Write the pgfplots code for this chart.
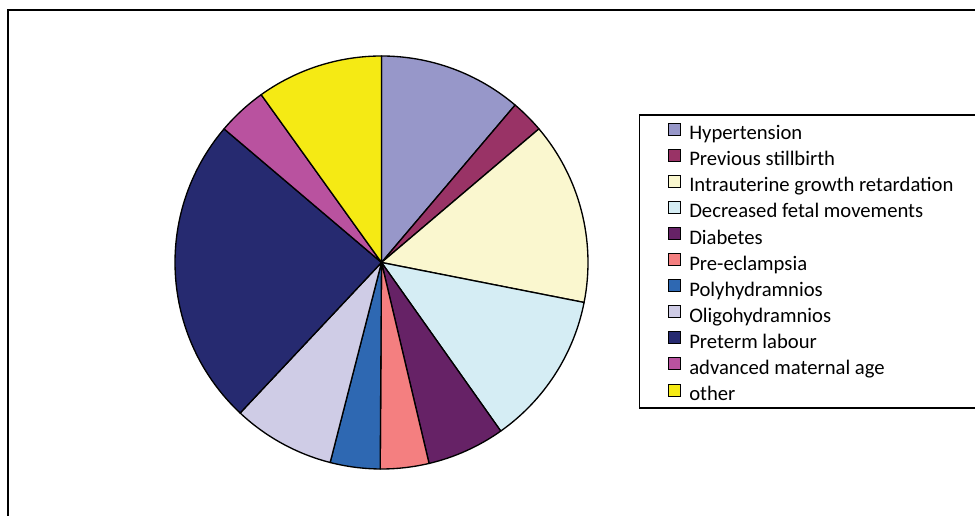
\documentclass[border=0pt]{standalone}
\usepackage{pgfplots}
\pgfplotsset{compat=1.18}
\usepackage{fontspec}
\setmainfont{Carlito}

\definecolor{cHyp}{HTML}{9797C9}
\definecolor{cPrev}{HTML}{993366}
\definecolor{cIugr}{HTML}{FAF7CF}
\definecolor{cDfm}{HTML}{D5EDF4}
\definecolor{cDia}{HTML}{662266}
\definecolor{cPre}{HTML}{F47F80}
\definecolor{cPoly}{HTML}{2E68B2}
\definecolor{cOligo}{HTML}{CFCCE6}
\definecolor{cPtl}{HTML}{262A70}
\definecolor{cAma}{HTML}{B9529F}
\definecolor{cOth}{HTML}{F5EA14}

\begin{document}
\begin{tikzpicture}
\begin{axis}[
    name=ax,
    scale only axis,
    width=731.25pt, height=387pt,
    xmin=0, xmax=975, ymin=0, ymax=516,
    hide axis, clip=false,
    legend image code/.code={\draw[#1,draw=black,line width=0.75pt] (0pt,0pt) rectangle (9pt,9pt);},
    legend style={draw=none, fill=none, at={(axis cs:668,394.3)}, anchor=north west,
        inner sep=0pt, column sep=6pt, row sep=0pt,
        font=\fontsize{15.5pt}{17pt}\selectfont,
        nodes={inner sep=0pt, text height=10.5pt, text depth=3.5pt, minimum height=19.575pt}},
    legend cell align=left,
]
% chart frame and legend box
\draw[line width=1.1pt] (axis cs:8,-5) -- (axis cs:8,506) -- (axis cs:990,506);
\draw[line width=1.1pt] (axis cs:639.3,108) rectangle (axis cs:990,401);

% slices: percentage / colour, clockwise from the top
\def\cum{0}
\foreach \v/\c in {11.2/cHyp, 2.6/cPrev, 14.3/cIugr, 12.1/cDfm, 6.1/cDia, 3.8/cPre,
                   3.9/cPoly, 8.0/cOligo, 24.2/cPtl, 3.9/cAma, 9.9/cOth}{
  \pgfmathsetmacro\a{90-3.6*\cum}
  \pgfmathsetmacro\b{90-3.6*(\cum+\v)}
  \pgfmathsetmacro\xs{381.5+206.5*cos(\a)}
  \pgfmathsetmacro\ys{253.5+206.5*sin(\a)}
  \edef\temp{\noexpand\filldraw[fill=\c,draw=black,line width=1pt,line join=round]
    (axis cs:381.5,253.5) -- (axis cs:\xs,\ys) arc[start angle=\a,end angle=\b,radius=154.875pt] -- cycle;}
  \temp
  \pgfmathsetmacro\n{\cum+\v}\xdef\cum{\n}
}

\addlegendimage{fill=cHyp}\addlegendentry{Hypertension}
\addlegendimage{fill=cPrev}\addlegendentry{Previous stillbirth}
\addlegendimage{fill=cIugr}\addlegendentry{Intrauterine growth retardation}
\addlegendimage{fill=cDfm}\addlegendentry{Decreased fetal movements}
\addlegendimage{fill=cDia}\addlegendentry{Diabetes}
\addlegendimage{fill=cPre}\addlegendentry{Pre-eclampsia}
\addlegendimage{fill=cPoly}\addlegendentry{Polyhydramnios}
\addlegendimage{fill=cOligo}\addlegendentry{Oligohydramnios}
\addlegendimage{fill=cPtl}\addlegendentry{Preterm labour}
\addlegendimage{fill=cAma}\addlegendentry{advanced maternal age}
\addlegendimage{fill=cOth}\addlegendentry{other}
\end{axis}
\pgfresetboundingbox
\path (ax.south west) rectangle (ax.north east);
\end{tikzpicture}
\end{document}
